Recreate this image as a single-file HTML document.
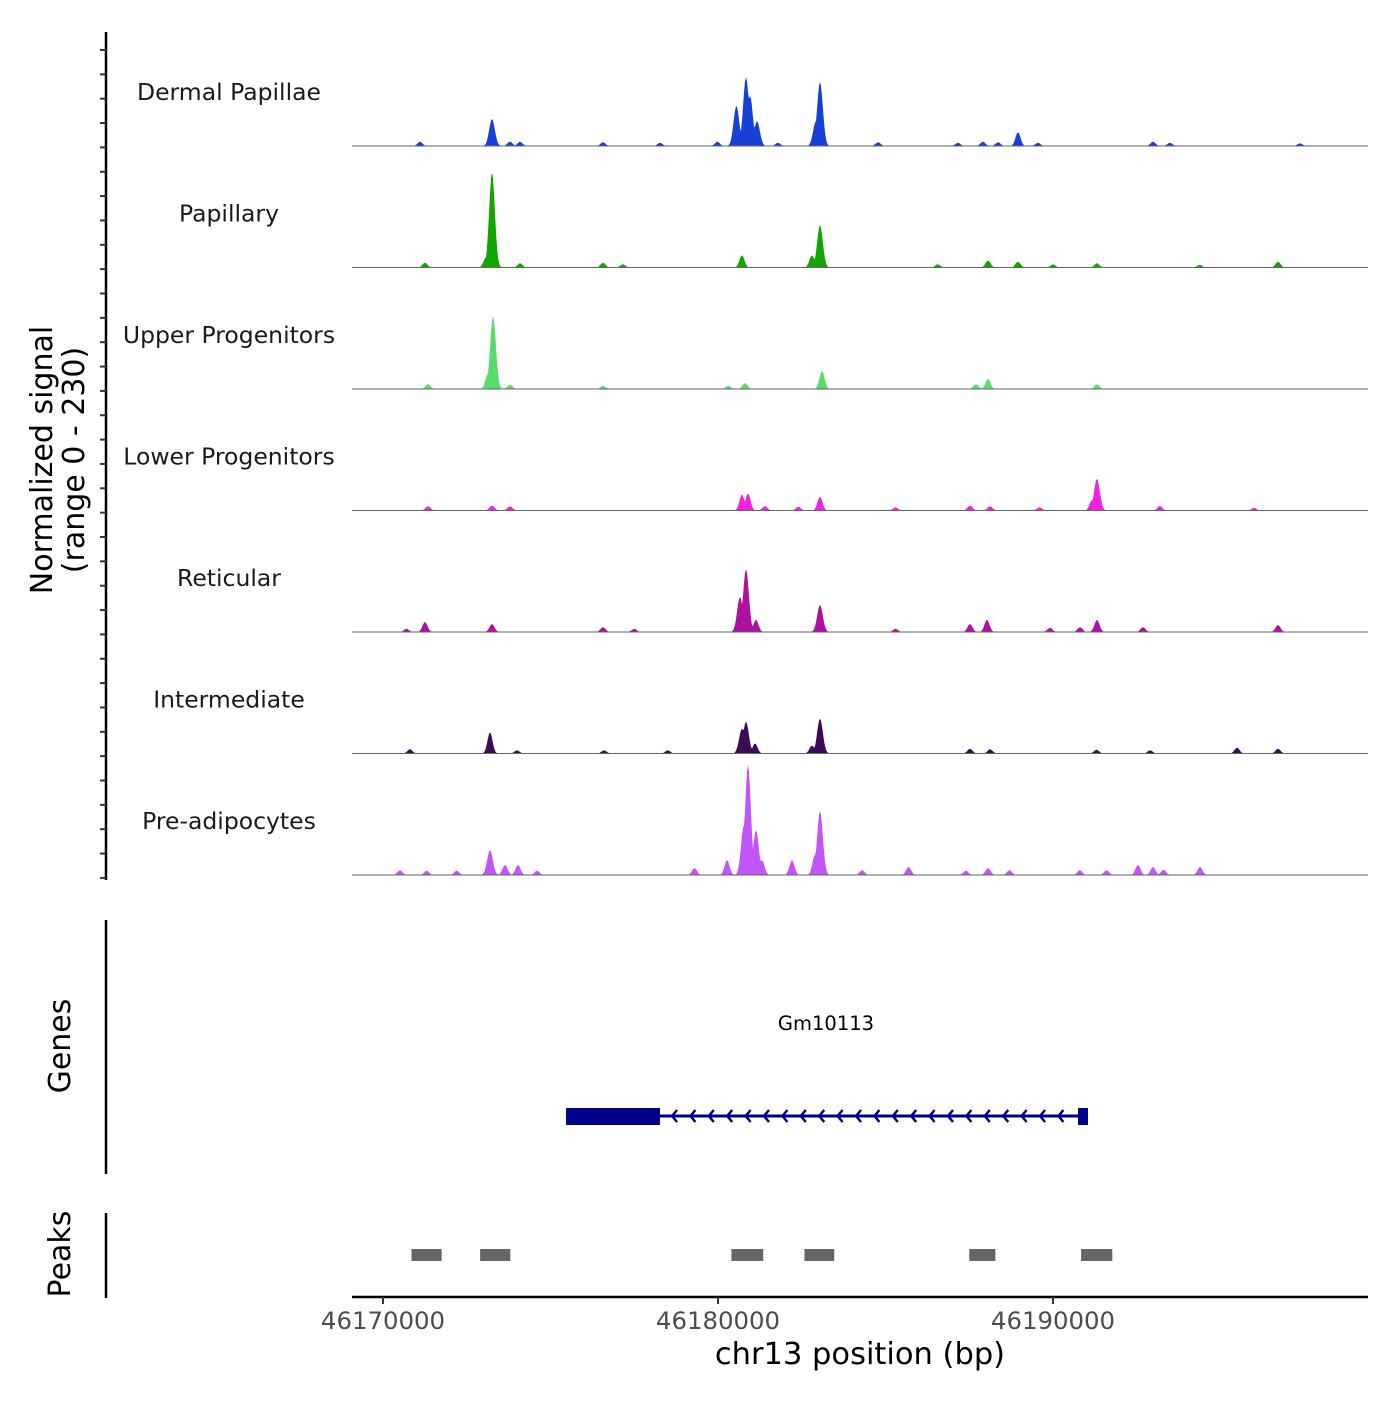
<!DOCTYPE html>
<html><head><meta charset="utf-8"><style>
body{margin:0;background:#fff;}
svg text{font-family:"DejaVu Sans","Liberation Sans",sans-serif;}
</style></head><body>
<svg id="c" width="1400" height="1400" xmlns="http://www.w3.org/2000/svg"></svg>
<script>
const trackNames=["Dermal Papillae","Papillary","Upper Progenitors","Lower Progenitors","Reticular","Intermediate","Pre-adipocytes"];
const trackColors=["#1640d8","#14a600","#58dd6a","#f022e2","#b0109f","#3b0b56","#c255f7"];
// peaks: [bp, signal]
const dermalPeaks=[[46180550,76],[46180836,130],[46180955,95],[46181165,47],[46183045,121],[46182925,47],[46173254,51],[46188955,26],[46171104,8],[46173791,8],[46174090,8],[46176567,7],[46178270,6],[46179980,8],[46181790,6],[46184780,7],[46187160,6],[46187910,8],[46188360,7],[46189550,6],[46192985,8],[46193490,6],[46197370,5]];
const papillaryPeaks=[[46173254,180],[46173075,19],[46180716,23],[46183045,80],[46182805,23],[46171253,9],[46188060,13],[46188955,11],[46191313,8],[46196716,11],[46176567,9],[46174090,8],[46177160,6],[46186560,6],[46190000,6],[46194380,5]];
const upperPeaks=[[46173284,138],[46173134,28],[46183105,34],[46180806,11],[46188060,19],[46187700,9],[46171343,9],[46191313,9],[46176567,6],[46173791,8],[46180300,6]];
const lowerPeaks=[[46180716,30],[46180896,32],[46183045,26],[46191313,60],[46191163,19],[46173254,9],[46173791,8],[46171343,8],[46187522,9],[46188120,8],[46193190,8],[46181400,8],[46182400,7],[46185300,6],[46189600,6],[46196000,5]];
const reticularPeaks=[[46180836,119],[46180657,66],[46181134,23],[46183045,51],[46188030,23],[46187522,15],[46191313,23],[46190806,9],[46173254,15],[46171253,19],[46196716,13],[46176567,9],[46192686,9],[46189910,8],[46170700,6],[46177500,6],[46185300,6]];
const interPeaks=[[46173194,40],[46180716,47],[46180836,60],[46181105,19],[46183045,66],[46182805,15],[46170804,8],[46195493,11],[46196716,9],[46187522,9],[46188120,8],[46174000,6],[46176600,6],[46178500,6],[46191300,7],[46192900,6]];
const prePeaks=[[46180896,208],[46180776,95],[46181134,85],[46181314,28],[46183045,121],[46182895,38],[46173194,47],[46173642,19],[46174030,19],[46180270,28],[46182209,28],[46194388,15],[46188060,13],[46192537,19],[46192985,15],[46170506,9],[46185690,15],[46179300,13],[46171300,8],[46172200,8],[46174600,8],[46184300,9],[46187400,8],[46188700,9],[46190800,9],[46191600,9],[46193300,10]];
const allPeaks=[dermalPeaks,papillaryPeaks,upperPeaks,lowerPeaks,reticularPeaks,interPeaks,prePeaks];
const xTicks=[46170000,46180000,46190000];
const peakRegions=[[46170850,46171750],[46172900,46173800],[46180400,46181350],[46182580,46183470],[46187500,46188280],[46190840,46191770]];
const geneName="Gm10113";
const geneStart=46175463, geneEnd=46191045, cdsStart=46175463, cdsEnd=46178269, exon2Start=46190746;
const yMax=230;

const svg=document.getElementById('c');
const NS="http://www.w3.org/2000/svg";
function mk(t,a,p){const e=document.createElementNS(NS,t);for(const k in a)e.setAttribute(k,a[k]);(p||svg).appendChild(e);return e;}
const x=bp=>383+(bp-46170000)*335/10000;
const X0=352,X1=1368,trackH=121.5,top0=24.5;

allPeaks.forEach((peaks,i)=>{
  const base=top0+trackH*(i+1);
  const sy=v=>base-v/yMax*trackH;
  const g=mk('g',{});
  
  
  let d='M'+X0+','+base;
  for(let px=X0;px<=X1;px+=1){
    let v=0;
    peaks.forEach(([p,h])=>{const s=h>40?85:75;const dx=(x(p)-px)*29.85/s;v=Math.max(v,h*Math.exp(-dx*dx/2));});
    d+=' L'+px+','+sy(v).toFixed(2);
  }
  d+=' L'+X1+','+base+'Z';
  const a=mk('path',{d:d,fill:trackColors[i],stroke:'none'},g);
  
  
  const bl=mk('line',{x1:X0,x2:X1,y1:base,y2:base,stroke:'#666','stroke-width':1},g);
  
  
  const lt=mk('text',{x:229,y:base-46,'text-anchor':'middle','font-size':23.5,fill:'#1a1a1a'},g);
  lt.textContent=trackNames[i];
  
  
});

const ax=mk('g',{});


mk('line',{x1:106,x2:106,y1:32,y2:880,stroke:'#000','stroke-width':2.5},ax);
for(let k=0;k<=34;k++){const yy=50+k*24.35;mk('line',{x1:100,x2:106,y1:yy,y2:yy,stroke:'#333','stroke-width':2},ax);}
const yt=mk('text',{x:0,y:0,'text-anchor':'middle','font-size':30,fill:'#000',transform:'translate(52,460) rotate(-90)'});
yt.innerHTML='<tspan x="0" dy="0">Normalized signal</tspan><tspan x="0" dy="32">(range 0 - 230)</tspan>';



const gg=mk('g',{});


mk('line',{x1:106,x2:106,y1:920,y2:1174,stroke:'#000','stroke-width':2.5},gg);
const gt=mk('text',{x:0,y:0,'text-anchor':'middle','font-size':30,fill:'#000',transform:'translate(70,1046) rotate(-90)'},gg);
gt.textContent='Genes';


mk('line',{x1:x(geneStart),x2:x(geneEnd),y1:1116,y2:1116,stroke:'#00008b','stroke-width':3},gg);
for(let ax2=x(cdsEnd)+12;ax2<x(exon2Start)-5;ax2+=18.4){mk('path',{d:`M${ax2+5},${1110} L${ax2},${1116} L${ax2+5},${1122}`,fill:'none',stroke:'#00008b','stroke-width':2.5},gg);}
const cds=mk('rect',{x:x(cdsStart),y:1108,width:x(cdsEnd)-x(cdsStart),height:17,fill:'#00008b'},gg);


mk('rect',{x:x(exon2Start),y:1108,width:x(geneEnd)-x(exon2Start),height:17,fill:'#00008b'},gg);
const gn=mk('text',{x:826,y:1030,'text-anchor':'middle','font-size':19.5,fill:'#000'},gg);
gn.textContent=geneName;



const pg=mk('g',{});


mk('line',{x1:106,x2:106,y1:1213,y2:1298,stroke:'#000','stroke-width':2.5},pg);
const pt=mk('text',{x:0,y:0,'text-anchor':'middle','font-size':30,fill:'#000',transform:'translate(70,1254) rotate(-90)'},pg);
pt.textContent='Peaks';


peakRegions.forEach(([s,e])=>{
  const r=mk('rect',{x:x(s),y:1249,width:x(e)-x(s),height:12,fill:'#666'},pg);
  
  
});

const xg=mk('g',{});


mk('line',{x1:X0,x2:X1,y1:1297,y2:1297,stroke:'#000','stroke-width':2.5},xg);
xTicks.forEach(t=>{
  mk('line',{x1:x(t),x2:x(t),y1:1297,y2:1304,stroke:'#333','stroke-width':2},xg);
  const tl=mk('text',{x:x(t),y:1329,'text-anchor':'middle','font-size':24.4,fill:'#4d4d4d'},xg);
  tl.textContent=t;
  
  
});
const xt=mk('text',{x:860,y:1364,'text-anchor':'middle','font-size':30.5,fill:'#000'},xg);
xt.textContent='chr13 position (bp)';


</script>
</body></html>
